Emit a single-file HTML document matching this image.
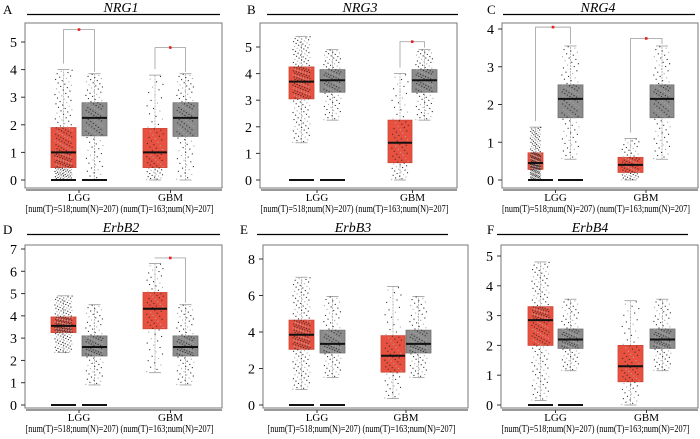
<!DOCTYPE html>
<html><head><meta charset="utf-8"><style>
html,body{margin:0;padding:0;background:#fff;}
svg{display:block;font-family:"Liberation Serif",serif;}
text{font-family:"Liberation Serif",serif;}
</style></head><body>
<svg id="fig" width="700" height="439" viewBox="0 0 700 439" xmlns="http://www.w3.org/2000/svg"></svg>
<script>
// ---- data ----
const panelLetters = ["A","B","C","D","E","F"];
const panelTitles = ["NRG1","NRG3","NRG4","ErbB2","ErbB3","ErbB4"];
const categories = ["LGG","GBM"];
const sampleLabel = "[num(T)=518;num(N)=207) (num(T)=163;num(N)=207]";
const ticksA = [0,1,2,3,4,5];
const ticksB = [0,1,2,3,4,5];
const ticksC = [0,1,2,3,4];
const ticksD = [0,1,2,3,4,5,6,7];
const ticksE = [0,2,4,6,8];
const ticksF = [0,1,2,3,4,5];
// box stats: [whiskerLow, q1, median, q3, whiskerHigh]  order: LGG-T, LGG-N, GBM-T, GBM-N
const statsA = [[0,0.45,1.0,1.9,4.0],[0,1.6,2.25,2.8,3.85],[0,0.45,1.0,1.87,3.8],[0,1.58,2.25,2.8,3.85]];
const statsB = [[1.4,3.05,3.7,4.25,5.4],[2.25,3.3,3.75,4.15,4.9],[0,0.65,1.4,2.25,4.0],[2.25,3.3,3.75,4.15,4.9]];
const statsC = [[0,0.28,0.45,0.72,1.4],[0.55,1.65,2.15,2.52,3.55],[0,0.2,0.4,0.6,1.1],[0.55,1.65,2.15,2.52,3.55]];
const statsD = [[2.35,3.25,3.55,3.95,4.9],[0.9,2.2,2.6,3.1,4.5],[1.45,3.42,4.32,5.05,6.35],[0.9,2.2,2.6,3.1,4.5]];
const statsE = [[0.85,3.05,3.85,4.65,7.0],[1.5,2.85,3.35,4.1,5.95],[0.35,1.8,2.7,3.8,6.5],[1.5,2.85,3.35,4.1,5.95]];
const statsF = [[0.15,2.0,2.85,3.3,4.8],[1.15,1.9,2.2,2.55,3.55],[0,0.78,1.3,2.0,3.5],[1.15,1.9,2.2,2.55,3.55]];
// significance star heights [LGG, GBM], null = not significant
const starsA = [5.45,4.8];
const starsB = [null,5.2];
const starsC = [4.05,3.75];
const starsD = [null,6.6];
const starsE = [null,null];
const starsF = [null,null];
const zeroBarsA = [true,true], zeroBarsB=[true,true], zeroBarsC=[true,true], zeroBarsD=[true,true], zeroBarsE=[true,true], zeroBarsF=[true,true];
const pointCounts = [200, 110, 80, 110];

// ---- layout ----
const layout = [
 {oy:0,   left:25, right:222, zeroY:180, topVal:5, topY:42, bx:[51,82,143,173], bw:[25,25,24,25], ul:[27,220], let:3,  titleX:121},
 {oy:0,   left:260,right:457, zeroY:180, topVal:5, topY:47, bx:[289,320,388,412], bw:[25,25,24,25], ul:[267,458], let:247, titleX:360},
 {oy:0,   left:502,right:698, zeroY:180, topVal:4, topY:29, bx:[528,558,618,650], bw:[15,25,25,24], ul:[503,695], let:487, titleX:598},
 {oy:220, left:25, right:222, zeroY:185, topVal:7, topY:29, bx:[51,82,143,173], bw:[25,25,24,25], ul:[27,220], let:3,  titleX:121},
 {oy:220, left:263,right:468, zeroY:185, topVal:8, topY:39, bx:[289,320,381,406], bw:[25,25,24,25], ul:[257,448], let:240, titleX:353},
 {oy:220, left:501,right:698, zeroY:185, topVal:5, topY:36, bx:[528,558,618,650], bw:[25,25,25,25], ul:[497,688], let:487, titleX:590}
];
const allTicks=[ticksA,ticksB,ticksC,ticksD,ticksE,ticksF];
const allStats=[statsA,statsB,statsC,statsD,statsE,statsF];
const allStars=[starsA,starsB,starsC,starsD,starsE,starsF];
const allZero=[zeroBarsA,zeroBarsB,zeroBarsC,zeroBarsD,zeroBarsE,zeroBarsF];

const NS="http://www.w3.org/2000/svg";
const svg=document.getElementById('fig');
const FF='"Liberation Serif", serif';
function mk(tag,attrs,parent,text){const e=document.createElementNS(NS,tag);for(const k in attrs)e.setAttribute(k,attrs[k]);if(text!==undefined){e.textContent=text;e.setAttribute('font-family',FF);}(parent||svg).appendChild(e);return e;}

function quantileVal(s,p){
  const ps=[0,0.25,0.5,0.75,1];
  for(let i=0;i<4;i++){if(p<=ps[i+1]){const t=(p-ps[i])/(ps[i+1]-ps[i]);return s[i]+t*(s[i+1]-s[i]);}}
  return s[4];
}

layout.forEach((L,pi)=>{
  const g=mk('g',{});
  
  
  const oy=L.oy;
  const unit=(L.zeroY-L.topY)/L.topVal;
  const y=v=>oy+L.zeroY-v*unit;
  const boxTop=oy+(pi<3?23:25), boxBot=oy+188;
  const lt=mk('text',{x:L.let,y:oy+14,'font-size':13},g,panelLetters[pi]);
  
  
  const tt=mk('text',{x:L.titleX,y:oy+12,'font-size':14,'font-style':'italic','text-anchor':'middle'},g,panelTitles[pi]);
  
  
  const ul=mk('line',{x1:L.ul[0],x2:L.ul[1],y1:oy+14.5,y2:oy+14.5,stroke:'#000','stroke-width':1.3},g);
  
  
  const fr=mk('rect',{x:L.left,y:boxTop,width:L.right-L.left,height:boxBot-boxTop,fill:'none',stroke:'#777','stroke-width':1},g);
  
  
  allTicks[pi].forEach(t=>{
    const yy=y(t);
    const tk=mk('line',{x1:L.left-4,x2:L.left,y1:yy,y2:yy,stroke:'#333','stroke-width':1},g);
    
    
    const tl=mk('text',{x:L.left-8,y:yy+5,'font-size':14,'text-anchor':'end'},g,String(t));
    
    
  });
  const ax=mk('line',{x1:L.left+1,x2:L.right,y1:boxBot+2,y2:boxBot+2,stroke:'#333','stroke-width':1},g);
  
  
  const stats=allStats[pi];
  stats.forEach((s,bi)=>{
    const x0=L.bx[bi], w=L.bw[bi], cx=x0+w/2;
    const tumor=bi%2===0;
    const bx=mk('rect',{x:x0,y:y(s[3]),width:w,height:y(s[1])-y(s[3]),fill:tumor?'#e8503f':'#8c8c8c',stroke:tumor?'#d04535':'#707070','stroke-width':0.8},g);
    
    
    [[s[3],s[4]],[s[0],s[1]]].forEach(([a,b])=>{
      const wl=mk('line',{x1:cx,x2:cx,y1:y(a),y2:y(b),stroke:'#aaa','stroke-width':0.8,'stroke-dasharray':'2,1'},g);
      
      
    });
    [s[0],s[4]].forEach(v=>{
      const cap=mk('line',{x1:cx-6,x2:cx+6,y1:y(v),y2:y(v),stroke:'#999','stroke-width':0.8},g);
      
      
    });
    const n=pointCounts[bi];
    for(let k=0;k<n;k++){
      const p=(k+0.5)/n;
      const v=quantileVal(s,p);
      const fx=((k*0.618034)%1)-0.5;
      const pt=mk('rect',{x:cx+fx*w*0.7-0.5,y:y(v)-0.5,width:1.1,height:1.1,fill:k%3===0?'#aaa':'#333'},g);
      
      
    }
    const md=mk('line',{x1:x0,x2:x0+w,y1:y(s[2]),y2:y(s[2]),stroke:'#111','stroke-width':2},g);
    
    
  });
  allZero[pi].forEach((z,bi)=>{
    if(!z)return;
    const x0=L.bx[bi], w=Math.max(L.bw[bi],25);
    const zb=mk('line',{x1:x0,x2:x0+w,y1:y(0),y2:y(0),stroke:'#111','stroke-width':2},g);
    
    
  });
  allStars[pi].forEach((sv,ci)=>{
    if(sv===null)return;
    const t=stats[ci*2], nrm=stats[ci*2+1];
    const xt=L.bx[ci*2]+L.bw[ci*2]/2, xn=L.bx[ci*2+1]+L.bw[ci*2+1]/2;
    const br=mk('polyline',{points:`${xt},${y(t[4])-6} ${xt},${y(sv)} ${xn},${y(sv)} ${xn},${y(nrm[4])-2}`,fill:'none',stroke:'#aaa','stroke-width':0.9},g);
    
    
    const st=mk('rect',{x:(xt+xn)/2-1.3,y:y(sv)-1.3,width:2.6,height:2.6,fill:'#e82020'},g);
    
    
  });
  categories.forEach((c,ci)=>{
    const cx=(L.bx[ci*2]+L.bx[ci*2+1]+L.bw[ci*2+1])/2;
    const tk=mk('line',{x1:cx,x2:cx,y1:boxBot+2,y2:boxBot+5,stroke:'#333','stroke-width':1},g);
    
    
    const cl=mk('text',{x:cx,y:oy+201,'font-size':11,'text-anchor':'middle'},g,c);
    
    
  });
  const sl=mk('text',{x:(L.left+L.right)/2-4,y:oy+212,'font-size':10.2,'text-anchor':'middle','textLength':188,'lengthAdjust':'spacingAndGlyphs'},g,sampleLabel);
  
  
});
</script>
</body></html>
